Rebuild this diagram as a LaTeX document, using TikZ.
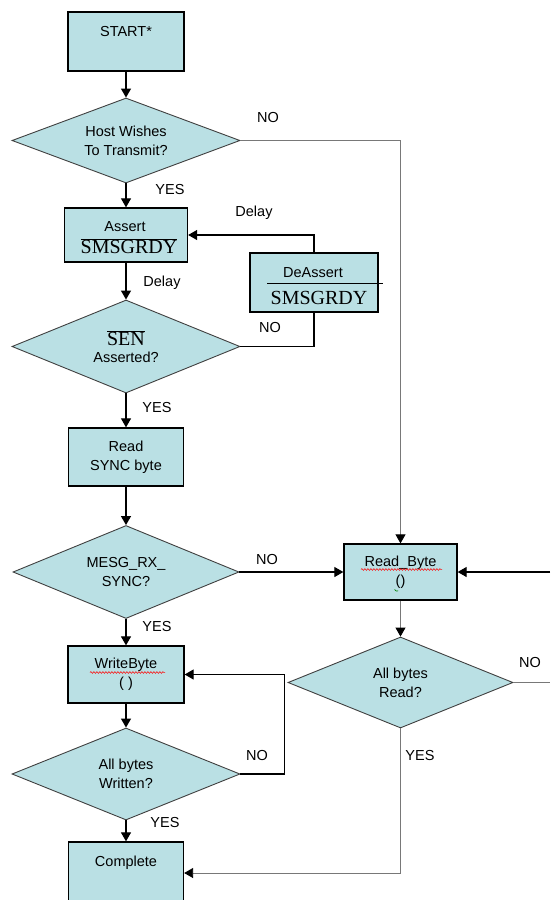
\documentclass[tikz,border=0pt]{standalone}
\usepackage{fontspec}
\setmainfont{Liberation Sans}
\newfontfamily\serifsm{Liberation Serif}
\usetikzlibrary{shapes.geometric,arrows.meta,decorations.pathmorphing}
\definecolor{boxfill}{RGB}{186,224,228}
\definecolor{graylink}{RGB}{120,120,120}
\newcommand\bigserif[1]{{\serifsm\fontsize{20}{22}\selectfont #1}}
\newcommand\ovlserif[1]{$\overline{\hbox{\bigserif{#1}}}$}
\begin{document}
\begin{tikzpicture}[x=1pt,y=-1pt,
  every node/.style={font=\fontsize{14.5}{19}\selectfont},
  procbox/.style={rectangle, draw=black, line width=1.3pt, fill=boxfill, inner sep=0pt, align=center},
  decis/.style={diamond, aspect=2.5, draw=black!75, line width=0.9pt, fill=boxfill, inner sep=0pt, align=center},
  txt/.style={inner sep=0pt, align=center},
  lbl/.style={inner sep=0pt},
  tip/.style={-{Triangle[width=10pt,length=9pt,color=black]}},
  flow/.style={draw=black, line width=1.2pt, tip},
  plain/.style={draw=black, line width=1.2pt},
  grayflow/.style={draw=graylink, line width=0.9pt, tip},
  grayplain/.style={draw=graylink, line width=0.9pt},
  squiggle/.style={draw=red, line width=0.5pt, decorate, decoration={snake, amplitude=0.9pt, segment length=3pt}}
]
\useasboundingbox (0,0) rectangle (550,900);
\clip (0,0) rectangle (550,900);
\fill[white] (0,0) rectangle (550,900);

% boxes
\node[procbox, minimum width=116pt, minimum height=59pt] (start) at (126,41.5) {};
\node[txt] (starttxt) at (126,32) {START*};
\node[procbox, minimum width=123pt, minimum height=54pt] (assert) at (126,235) {};
\node[txt] (asserttxt) at (125,227) {Assert};
\node[txt] (assertsig) at (129,246) {\ovlserif{SMSGRDY}};
\node[procbox, minimum width=128pt, minimum height=59pt] (deassert) at (314,282.5) {};
\node[txt] (deasserttxt) at (313,273) {DeAssert};
\node[txt] (deassertsig) at (319,298) {\bigserif{SMSGRDY}};
\draw[black, line width=0.9pt] ([xshift=-47pt]deassert.center |- 0,283) -- ([xshift=69pt]deassert.center |- 0,283);
\node[procbox, minimum width=115pt, minimum height=58pt] (readsync) at (126,457) {Read\\SYNC byte};
\node[procbox, minimum width=113pt, minimum height=56pt] (readbyte) at (400.5,572) {Read\_Byte\\()};
\node[procbox, minimum width=116pt, minimum height=57pt] (writebyte) at (126,674.5) {WriteByte\\( )};
\node[procbox, minimum width=115pt, minimum height=62pt] (complete) at (126,873) {};
\node[txt] (completetxt) at (126,863) {Complete};

% spelling squiggles
\draw[squiggle] (361,569.5) -- (442,569.5);
\draw[squiggle] (90,672.5) -- (165,672.5);
\draw[green!50!black, line width=0.7pt] (394.5,589.5) arc[start angle=200, end angle=300, radius=2.5pt];

% decisions
\node[decis, minimum width=228pt, minimum height=85pt] (d1) at (126,140.5) {Host Wishes\\To Transmit?};
\node[decis, minimum width=228pt, minimum height=93pt] (d2) at (126,346.5) {\ovlserif{SEN}\\[-2pt]Asserted?};
\node[decis, minimum width=226pt, minimum height=93pt] (d3) at (126,572) {MESG\_RX\_\\SYNC?};
\node[decis, minimum width=225pt, minimum height=91pt] (d4) at (400.5,682.5) {All bytes\\Read?};
\node[decis, minimum width=228pt, minimum height=92pt] (d5) at (126,774) {All bytes\\Written?};

% free ends at the right edge
\coordinate (rin) at (550,572);
\coordinate (rout) at (550,682.5);

% connectors
\draw[flow] (start) -- (d1);
\draw[grayflow] (d1.east) -| (readbyte.north);
\draw[flow] (d1) -- (assert);
\draw[flow] (assert) -- (d2);
\draw[plain] (d2.east) -| (deassert.south);
\draw[flow] (deassert.north) |- (assert.east);
\draw[flow] (d2) -- (readsync);
\draw[flow] (readsync) -- (d3);
\draw[flow] (d3.east) -- (readbyte.west);
\draw[flow] (d3) -- (writebyte);
\draw[flow] (writebyte) -- (d5);
\draw[flow] (d5.east) -- ++(44,0) |- (writebyte.east);
\draw[flow] (d5) -- (complete);
\draw[grayflow] (readbyte) -- (d4);
\draw[grayplain] (d4.east) -- (rout);
\draw[flow] (rin) -- (readbyte.east);
\draw[grayflow] (d4.south) |- (complete.east);

% labels
\node[lbl] (l1) at (268,118) {NO};
\node[lbl] (l2) at (170,190) {YES};
\node[lbl] (l3) at (254,213) {Delay};
\node[lbl] (l4) at (162,283) {Delay};
\node[lbl] (l5) at (270,328) {NO};
\node[lbl] (l6) at (157,408) {YES};
\node[lbl] (l7) at (267,560) {NO};
\node[lbl] (l8) at (157,627) {YES};
\node[lbl] (l9) at (257,755) {NO};
\node[lbl] (l10) at (165,822) {YES};
\node[lbl] (l11) at (530,662) {NO};
\node[lbl] (l12) at (420,755) {YES};
\end{tikzpicture}
\end{document}
